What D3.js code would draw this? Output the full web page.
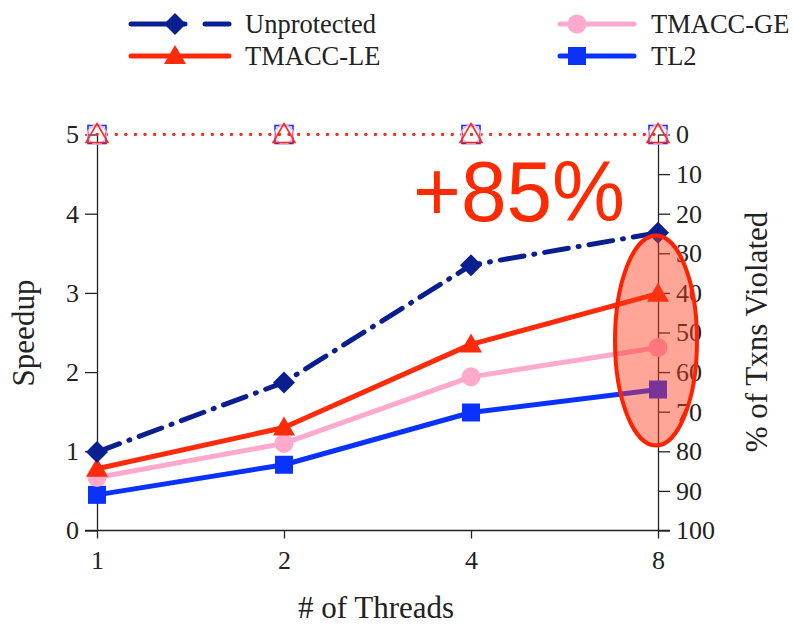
<!DOCTYPE html>
<html><head><meta charset="utf-8">
<script src="https://cdn.jsdelivr.net/npm/d3@7"></script>
<style>body{margin:0;background:#fff}svg{display:block}text{font-family:'Liberation Serif','Times New Roman',serif}</style>
</head><body>
<svg id="c" width="793" height="624"></svg>
<script>
const threads = ["1","2","4","8"];
const unprotected = [0.99, 1.87, 3.35, 3.76];
const tmaccLE = [0.78, 1.30, 2.35, 2.99];
const tmaccGE = [0.67, 1.10, 1.94, 2.31];
const tl2 = [0.45, 0.83, 1.49, 1.78];
const violLE = [0, 0, 0, 0];
const violGE = [0, 0, 0, 0];
const violTL2 = [0, 0, 0, 0];
const speedTicks = [0,1,2,3,4,5];
const violTicks = [0,10,20,30,40,50,60,70,80,90,100];

const svg = d3.select("#c");
const serif = "'Liberation Serif','Times New Roman',serif";
const x = d3.scalePoint().domain(threads).range([97,658]);
const y = d3.scaleLinear().domain([0,5]).range([530.5,134.5]);
const y2 = d3.scaleLinear().domain([0,100]).range([134.5,530.5]);

// axes
const gL = svg.append("g").attr("transform","translate(97,0)")
  .call(d3.axisLeft(y).tickValues(speedTicks).tickFormat(d3.format("d")).tickSize(12).tickPadding(6).tickSizeOuter(0));
const gR = svg.append("g").attr("transform","translate(658,0)")
  .call(d3.axisRight(y2).tickValues(violTicks).tickFormat(d3.format("d")).tickSize(12).tickPadding(6).tickSizeOuter(0));
const gB = svg.append("g").attr("transform","translate(0,530.5)")
  .call(d3.axisBottom(x).tickSize(8).tickPadding(12).tickSizeOuter(0));
gB.select(".domain").attr("d","M85,0H670");
[gL,gR,gB].forEach(g=>{
  g.attr("font-family",serif).attr("font-size",26);
  g.selectAll("text").style("font-family",serif).attr("font-size",26).attr("fill","#222");
  g.selectAll("line,path").attr("stroke","#222").attr("stroke-width",1.3);
});
gB.selectAll("text").attr("dy","0.71em");

// axis titles
svg.append("text").attr("transform","translate(34,333) rotate(-90)").attr("text-anchor","middle")
  .attr("font-size",31).attr("fill","#222").text("Speedup");
svg.append("text").attr("transform","translate(767,332) rotate(-90)").attr("text-anchor","middle")
  .attr("font-size",31).attr("fill","#222").text("% of Txns Violated");
svg.append("text").attr("x",376).attr("y",618).attr("text-anchor","middle")
  .attr("font-size",31).attr("fill","#222").text("# of Threads");

// marker helpers
function marker(g, type, cx, cy, color, hollow){
  let el;
  if(type==="diamond"){
    el = g.append("path").attr("d",`M${cx},${cy-11}L${cx+11},${cy}L${cx},${cy+11}L${cx-11},${cy}Z`);
  } else if(type==="triangle"){
    el = g.append("path").attr("d",`M${cx},${cy-11}L${cx+11},${cy+8}L${cx-11},${cy+8}Z`);
  } else if(type==="circle"){
    el = g.append("circle").attr("cx",cx).attr("cy",cy).attr("r",9.5);
  } else {
    el = g.append("rect").attr("x",cx-9).attr("y",cy-9).attr("width",18).attr("height",18);
  }
  if(hollow) el.attr("fill","none").attr("stroke",color).attr("stroke-width",1.6);
  else el.attr("fill",color);
}

// violation series (dotted, at 0%)
const violSeries = [
  {vals:violTL2, color:"#1133ff", type:"square"},
  {vals:violGE, color:"#ffaacc", type:"circle"},
  {vals:violLE, color:"#ff2a1a", type:"triangle"}
];
const line2 = d3.line().x((d,i)=>x(threads[i])).y(d=>y2(d));
violSeries.forEach(s=>{
  svg.append("path").datum(s.vals).attr("d",line2).attr("fill","none")
    .attr("stroke","#ff2a1a").attr("stroke-width",2.8).attr("stroke-dasharray","0.1,9.5").attr("stroke-linecap","round");
});
violSeries.forEach(s=>{
  s.vals.forEach((v,i)=>marker(svg, s.type, x(threads[i]), y2(v), s.color, true));
});

// speedup series
const series = [
  {name:"Unprotected", vals:unprotected, color:"#0a1f8f", type:"diamond", dash:"24,10,1,10"},
  {name:"TMACC-LE", vals:tmaccLE, color:"#ff2a0a", type:"triangle"},
  {name:"TMACC-GE", vals:tmaccGE, color:"#ffaacc", type:"circle"},
  {name:"TL2", vals:tl2, color:"#0a32ff", type:"square"}
];
const line = d3.line().x((d,i)=>x(threads[i])).y(d=>y(d));
series.slice().reverse().forEach(s=>{
  const p = svg.append("path").datum(s.vals).attr("d",line).attr("fill","none")
    .attr("stroke",s.color).attr("stroke-width",5).attr("stroke-linecap","round").attr("stroke-linejoin","round");
  if(s.dash) p.attr("stroke-dasharray",s.dash);
  s.vals.forEach((v,i)=>marker(svg, s.type, x(threads[i]), y(v), s.color, false));
});

// legend
const legendPos = [
  {x1:131,x2:229,mx:175,y:24,tx:245},
  {x1:131,x2:229,mx:175,y:56,tx:245},
  {x1:560,x2:634,mx:577,y:24,tx:651},
  {x1:560,x2:634,mx:577,y:56,tx:651}
];
series.forEach((s,i)=>{
  const L = legendPos[i];
  if(s.dash){
    svg.append("line").attr("x1",L.x1).attr("x2",L.mx+10).attr("y1",L.y).attr("y2",L.y)
      .attr("stroke",s.color).attr("stroke-width",5).attr("stroke-linecap","round");
    svg.append("line").attr("x1",205).attr("x2",L.x2).attr("y1",L.y).attr("y2",L.y)
      .attr("stroke",s.color).attr("stroke-width",5).attr("stroke-linecap","round");
  } else {
    svg.append("line").attr("x1",L.x1).attr("x2",L.x2).attr("y1",L.y).attr("y2",L.y)
      .attr("stroke",s.color).attr("stroke-width",5).attr("stroke-linecap","round");
  }
  marker(svg, s.type, L.mx, L.y, s.color, false);
  svg.append("text").attr("x",L.tx).attr("y",L.y).attr("dy","0.35em")
    .attr("font-size",26.5).attr("fill","#222").text(s.name);
});

// highlight ellipse
svg.append("ellipse").attr("cx",x("8")-2).attr("cy",y(2.4)).attr("rx",41).attr("ry",105)
  .attr("fill","#ff3a1a").attr("fill-opacity",0.45).attr("stroke","#ff2200").attr("stroke-width",4);

svg.append("text").attr("x",413).attr("y",221).style("font-family","'Liberation Sans',Arial,sans-serif")
  .attr("font-size",86).attr("fill","#ff2a00").attr("textLength",212).attr("lengthAdjust","spacingAndGlyphs").text("+85%");
</script>
</body></html>
